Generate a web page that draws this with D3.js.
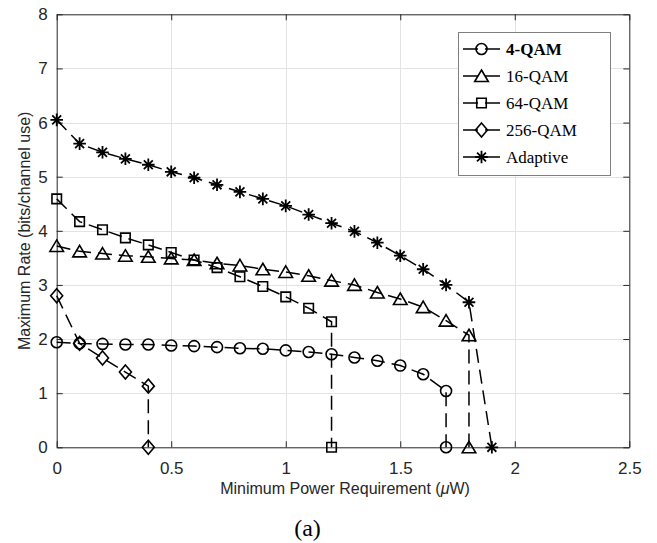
<!DOCTYPE html>
<html>
<head>
<meta charset="utf-8">
<script src="https://cdn.jsdelivr.net/npm/d3@7"></script>
<style>
  html, body { margin: 0; padding: 0; background: #fff; }
  svg { display: block; }
</style>
</head>
<body>
<div id="chart"></div>
<script>
// ---- data ----
const xTicks = [0, 0.5, 1, 1.5, 2, 2.5];
const xTickLabels = ["0", "0.5", "1", "1.5", "2", "2.5"];
const yTicks = [0, 1, 2, 3, 4, 5, 6, 7, 8];
const yTickLabels = ["0", "1", "2", "3", "4", "5", "6", "7", "8"];

const seriesNames = ["4-QAM", "16-QAM", "64-QAM", "256-QAM", "Adaptive"];
const seriesMarkers = ["circle", "triangle", "square", "diamond", "star"];

const qam4X = [0, 0.1, 0.2, 0.3, 0.4, 0.5, 0.6, 0.7, 0.8, 0.9, 1.0, 1.1, 1.2, 1.3, 1.4, 1.5, 1.6, 1.7, 1.7];
const qam4Y = [1.94, 1.92, 1.91, 1.90, 1.90, 1.88, 1.87, 1.85, 1.83, 1.82, 1.79, 1.76, 1.72, 1.66, 1.60, 1.51, 1.35, 1.04, 0];

const qam16X = [0, 0.1, 0.2, 0.3, 0.4, 0.5, 0.6, 0.7, 0.8, 0.9, 1.0, 1.1, 1.2, 1.3, 1.4, 1.5, 1.6, 1.7, 1.8, 1.8];
const qam16Y = [3.72, 3.62, 3.58, 3.54, 3.52, 3.49, 3.46, 3.40, 3.36, 3.29, 3.24, 3.17, 3.08, 3.00, 2.86, 2.74, 2.59, 2.34, 2.07, 0];

const qam64X = [0, 0.1, 0.2, 0.3, 0.4, 0.5, 0.6, 0.7, 0.8, 0.9, 1.0, 1.1, 1.2, 1.2];
const qam64Y = [4.59, 4.17, 4.02, 3.87, 3.74, 3.60, 3.46, 3.32, 3.15, 2.97, 2.78, 2.57, 2.32, 0];

const qam256X = [0, 0.1, 0.2, 0.3, 0.4, 0.4];
const qam256Y = [2.80, 1.92, 1.65, 1.39, 1.13, 0];

const adaptiveX = [0, 0.1, 0.2, 0.3, 0.4, 0.5, 0.6, 0.7, 0.8, 0.9, 1.0, 1.1, 1.2, 1.3, 1.4, 1.5, 1.6, 1.7, 1.8, 1.9];
const adaptiveY = [6.05, 5.61, 5.45, 5.33, 5.22, 5.09, 4.98, 4.85, 4.72, 4.59, 4.46, 4.30, 4.14, 3.99, 3.78, 3.54, 3.29, 3.00, 2.68, 0];

const xLabel = "Minimum Power Requirement (";
const yLabel = "Maximum Rate (bits/channel use)";
const caption = "(a)";

// ---- layout ----
const W = 657, H = 543;
const L = 56.7, R = 629.3, T = 14.3, B = 447.3;
const axisColor = "#262626";
const sans = "'Liberation Sans', Arial, Helvetica, sans-serif";
const serif = "'Liberation Serif', 'Times New Roman', Times, serif";

const svg = d3.select("#chart").append("svg").attr("width", W).attr("height", H);

const x = d3.scaleLinear().domain([0, 2.5]).range([L, R]);
const y = d3.scaleLinear().domain([0, 8]).range([B, T]);

// grid
const grid = svg.append("g").attr("stroke", "#e3e3e3").attr("stroke-width", 1);
grid.selectAll("line.gx").data(xTicks.slice(1, -1)).enter().append("line")
  .attr("x1", d => Math.round(x(d)) + 0.5).attr("x2", d => Math.round(x(d)) + 0.5)
  .attr("y1", T).attr("y2", B);
grid.selectAll("line.gy").data(yTicks.slice(1, -1)).enter().append("line")
  .attr("y1", d => Math.round(y(d)) + 0.5).attr("y2", d => Math.round(y(d)) + 0.5)
  .attr("x1", L).attr("x2", R);

// axes
function styleAxis(g) {
  g.select(".domain").attr("stroke", axisColor).attr("stroke-width", 1);
  g.selectAll(".tick line").attr("stroke", axisColor).attr("stroke-width", 1);
  g.selectAll(".tick text").attr("fill", axisColor).style("font-family", sans).style("font-size", "17px");
}
const xAxis = svg.append("g").attr("transform", `translate(0,${B})`)
  .call(d3.axisBottom(x).tickValues(xTicks).tickFormat((d, i) => xTickLabels[i]).tickSizeInner(-6).tickSizeOuter(0).tickPadding(15));
styleAxis(xAxis);
const xAxisTop = svg.append("g").attr("transform", `translate(0,${T})`)
  .call(d3.axisTop(x).tickValues(xTicks).tickFormat("").tickSizeInner(-6).tickSizeOuter(0));
styleAxis(xAxisTop);
const yAxis = svg.append("g").attr("transform", `translate(${L},0)`)
  .call(d3.axisLeft(y).tickValues(yTicks).tickFormat((d, i) => yTickLabels[i]).tickSizeInner(-6).tickSizeOuter(0).tickPadding(9));
styleAxis(yAxis);
const yAxisRight = svg.append("g").attr("transform", `translate(${R},0)`)
  .call(d3.axisRight(y).tickValues(yTicks).tickFormat("").tickSizeInner(-6).tickSizeOuter(0));
styleAxis(yAxisRight);

// axis labels
const xl = svg.append("text")
  .attr("x", (L + R) / 2 + 2).attr("y", 494)
  .attr("text-anchor", "middle")
  .attr("fill", axisColor)
  .style("font-family", sans).style("font-size", "16px");
xl.append("tspan").text(xLabel);
xl.append("tspan").attr("font-style", "italic").text("\u03BC");
xl.append("tspan").text("W)");

svg.append("text")
  .attr("transform", `translate(30,${(T + B) / 2}) rotate(-90)`)
  .attr("text-anchor", "middle")
  .attr("fill", axisColor)
  .style("font-family", sans).style("font-size", "16px")
  .text(yLabel);

svg.append("text")
  .attr("x", 307.5).attr("y", 536)
  .attr("text-anchor", "middle")
  .attr("fill", "#000")
  .style("font-family", serif).style("font-size", "24px")
  .text(caption);

// markers
function markerPath(type) {
  switch (type) {
    case "circle": return d3.symbol().type(d3.symbolCircle).size(Math.PI * 5.5 * 5.5)();
    case "square": return "M-4.75,-4.75L4.75,-4.75L4.75,4.75L-4.75,4.75Z";
    case "triangle": return "M0,-6L6.8,5.5L-6.8,5.5Z";
    case "diamond": return "M0,-7L6,0L0,7L-6,0Z";
    case "star": {
      const r = 6.3, d = 6.3 * Math.SQRT1_2;
      return `M${-r},0L${r},0M0,${-r}L0,${r}M${-d},${-d}L${d},${d}M${-d},${d}L${d},${-d}`;
    }
  }
}

const series = [
  { name: seriesNames[0], marker: seriesMarkers[0], xs: qam4X, ys: qam4Y },
  { name: seriesNames[1], marker: seriesMarkers[1], xs: qam16X, ys: qam16Y },
  { name: seriesNames[2], marker: seriesMarkers[2], xs: qam64X, ys: qam64Y },
  { name: seriesNames[3], marker: seriesMarkers[3], xs: qam256X, ys: qam256Y },
  { name: seriesNames[4], marker: seriesMarkers[4], xs: adaptiveX, ys: adaptiveY }
];

const line = d3.line().x(d => x(d[0])).y(d => y(d[1]));
const plot = svg.append("g");
series.forEach(s => {
  const pts = s.xs.map((v, i) => [v, s.ys[i]]);
  plot.append("path")
    .attr("d", line(pts))
    .attr("fill", "none").attr("stroke", "#000").attr("stroke-width", 1.5)
    .attr("stroke-dasharray", "14,7");
  plot.selectAll(null).data(pts).enter().append("path")
    .attr("transform", d => `translate(${x(d[0])},${y(d[1])})`)
    .attr("d", markerPath(s.marker))
    .attr("fill", "none").attr("stroke", "#000")
    .attr("stroke-width", s.marker === "star" ? 1.8 : 1.6);
});

// legend
const lg = svg.append("g");
lg.append("rect")
  .attr("x", 458.5).attr("y", 32.5).attr("width", 152).attr("height", 143)
  .attr("fill", "#fff").attr("stroke", "#7f7f7f").attr("stroke-width", 1);
const rowY = [49, 76, 103, 130, 157];
series.forEach((s, i) => {
  const g = lg.append("g").attr("transform", `translate(0,${rowY[i]})`);
  g.append("line").attr("x1", 463).attr("x2", 478).attr("y1", 0).attr("y2", 0)
    .attr("stroke", "#000").attr("stroke-width", 1.5);
  g.append("line").attr("x1", 485).attr("x2", 500).attr("y1", 0).attr("y2", 0)
    .attr("stroke", "#000").attr("stroke-width", 1.5);
  g.append("path").attr("transform", "translate(481.5,0)")
    .attr("d", markerPath(s.marker))
    .attr("fill", "none").attr("stroke", "#000")
    .attr("stroke-width", s.marker === "star" ? 1.8 : 1.6);
  g.append("text").attr("x", 506).attr("y", 0).attr("dy", "0.35em")
    .attr("fill", "#000")
    .style("font-family", serif).style("font-size", "17px")
    .style("font-weight", i === 0 ? "bold" : "normal")
    .text(s.name);
});
</script>
</body>
</html>
